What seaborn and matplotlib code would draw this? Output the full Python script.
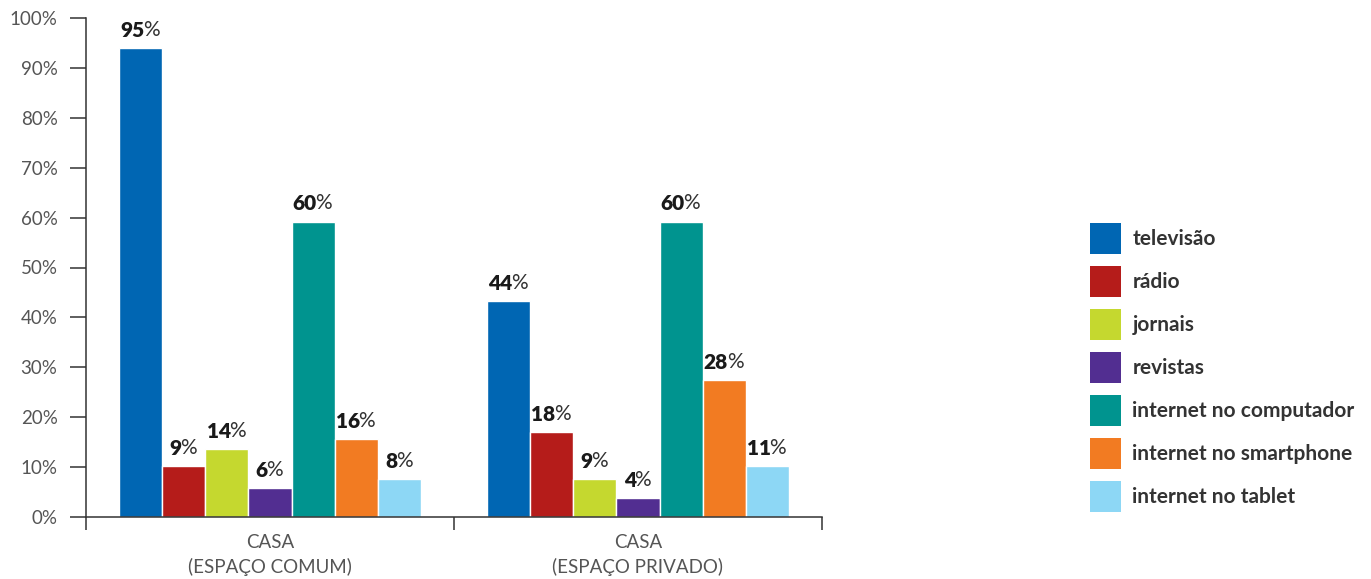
import pandas as pd
import numpy as np
import matplotlib
matplotlib.use("Agg")
import matplotlib.pyplot as plt
from matplotlib.patches import Patch
import seaborn as sns

# dados
locais = ["CASA\n(ESPAÇO COMUM)", "CASA\n(ESPAÇO PRIVADO)"]
meios = ["televisão", "rádio", "jornais", "revistas",
         "internet no computador", "internet no smartphone", "internet no tablet"]
cores = ["#0066B3", "#B51C1A", "#C5D82F", "#522E91", "#00948F", "#F27B22", "#8DD7F5"]

# altura das barras (como desenhadas) e rótulos impressos
altura_comum = [94, 10.2, 13.6, 5.8, 59.2, 15.6, 7.6]
altura_privado = [43.2, 17, 7.6, 3.8, 59.2, 27.4, 10.2]
rotulo_comum = [95, 9, 14, 6, 60, 16, 8]
rotulo_privado = [44, 18, 9, 4, 60, 28, 11]

df = pd.DataFrame({
    "local": [locais[0]] * 7 + [locais[1]] * 7,
    "meio": meios * 2,
    "valor": altura_comum + altura_privado,
})
rotulos = {locais[0]: rotulo_comum, locais[1]: rotulo_privado}

sns.set_style("white")
plt.rcParams["font.family"] = ["Lato", "DejaVu Sans"]

fig = plt.figure(figsize=(13.71, 5.79), dpi=100)
ax = fig.add_axes([86 / 1371, 1 - 517 / 579, (822 - 86) / 1371, (517 - 18) / 579])

sns.barplot(data=df, x="local", y="valor", hue="meio", hue_order=meios,
            order=locais, palette=cores, width=0.82, gap=0, saturation=1,
            legend=False, ax=ax)

ax.set_xlim(-0.5, 1.5)
ax.set_ylim(0, 100)
ax.set_yticks(np.arange(0, 101, 10))
ax.set_yticklabels([f"{v}%" for v in range(0, 101, 10)])
ax.set_xlabel("")
ax.set_ylabel("")

for s in ["top", "right"]:
    ax.spines[s].set_visible(False)
for s in ["left", "bottom"]:
    ax.spines[s].set_color("#333333")
    ax.spines[s].set_linewidth(1.1)

ax.tick_params(axis="y", length=11.5, width=1.1, color="#333333", pad=9,
               labelsize=13.5, labelcolor="#555555", left=True)
ax.tick_params(axis="x", which="major", length=0, pad=12, labelsize=13.5,
               labelcolor="#555555")
ax.set_xticks([-0.5, 0.5, 1.5], minor=True)
ax.tick_params(axis="x", which="minor", length=9, width=1.1, color="#333333",
               bottom=True)
for lab in ax.get_xticklabels():
    lab.set_linespacing(1.45)

# rótulos: número em negrito + "%" normal
pares = []
for i, cont in enumerate(ax.containers):
    for j, barra in enumerate(cont):
        x = barra.get_x() + barra.get_width() / 2
        h = barra.get_height()
        num = str(rotulos[locais[j]][i])
        t1 = ax.annotate(num, xy=(x, h), xytext=(0, 6), textcoords="offset points",
                         ha="left", va="bottom", fontsize=15, fontweight="heavy",
                         color="#1a1a1a")
        t2 = ax.annotate("%", xy=(1, 0), xycoords=t1, xytext=(-1, 0),
                         textcoords="offset points", ha="left", va="bottom",
                         fontsize=15, color="#333333")
        pares.append((t1, t2))

fig.canvas.draw()
r = fig.canvas.get_renderer()
for t1, t2 in pares:
    w = t1.get_window_extent(r).width + t2.get_window_extent(r).width
    t1.set_position((-w / 2 * 72 / fig.dpi, 6))

handles = [Patch(facecolor=c, edgecolor="none") for c in cores]
fig.legend(handles, meios, loc="upper left",
           bbox_to_anchor=(1090 / 1371, 1 - 223 / 579), frameon=False,
           prop={"size": 15, "weight": "bold"}, labelcolor="#333333",
           handlelength=1.49, handleheight=1.91, handletextpad=0.55,
           labelspacing=0.58, borderpad=0, borderaxespad=0)

fig.savefig("out.png", dpi=100)
